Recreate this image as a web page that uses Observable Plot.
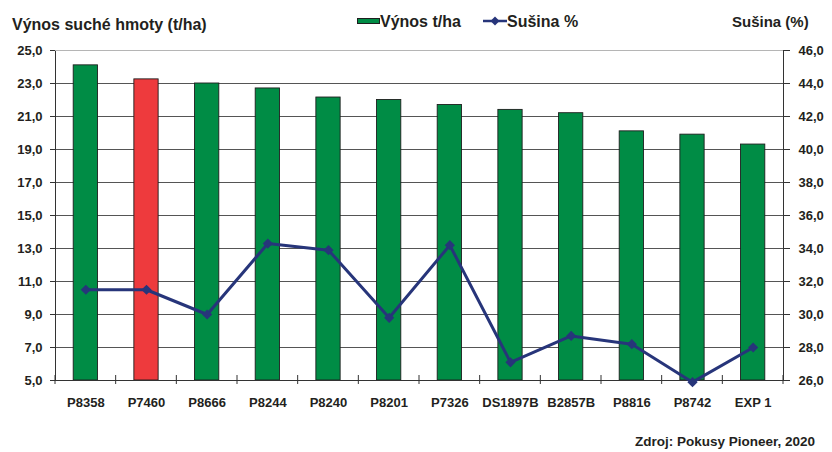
<!DOCTYPE html>
<html>
<head>
<meta charset="utf-8">
<script src="https://cdn.jsdelivr.net/npm/d3@7"></script>
<script src="https://cdn.jsdelivr.net/npm/@observablehq/plot@0.6"></script>
<style>
  body { margin: 0; background: #fff; }
  #wrap { position: relative; width: 832px; height: 452px; overflow: hidden;
          font-family: "Liberation Sans", Arial, sans-serif; font-weight: bold; color: #231f20; }
  .t { position: absolute; white-space: nowrap; line-height: normal; }
  #chart { position: absolute; left: 0; top: 0; }
</style>
</head>
<body>
<div id="wrap">
  <div id="chart"></div>
  <div class="t" style="left:12px;top:15.5px;font-size:16px">Výnos suché hmoty (t/ha)</div>
  <div class="t" style="left:357px;top:17.5px;width:23px;height:6px;box-sizing:border-box;background:#008c45;border:1px solid #1e1e1e"></div>
  <div class="t" style="left:380px;top:13.2px;font-size:16px">Výnos t/ha</div>
  <svg class="t" style="left:482px;top:14px" width="26" height="14">
    <line x1="1" x2="25" y1="7" y2="7" stroke="#27357a" stroke-width="2.5"></line>
    <path d="M13,2.5L17.5,7L13,11.5L8.5,7Z" fill="#27357a"></path>
  </svg>
  <div class="t" style="left:507px;top:13.2px;font-size:16px">Sušina %</div>
  <div class="t" style="left:732px;top:13.1px;font-size:15px">Sušina (%)</div>
  <div class="t" style="right:17px;top:433.5px;font-size:13.5px">Zdroj: Pokusy Pioneer, 2020</div>
</div>
<script>
// ---- data ----
const categories = ["P8358", "P7460", "P8666", "P8244", "P8240", "P8201", "P7326", "DS1897B", "B2857B", "P8816", "P8742", "EXP 1"];
const vynos = [24.1, 23.25, 23.0, 22.7, 22.15, 22.0, 21.7, 21.4, 21.2, 20.1, 19.9, 19.3];
const susina = [31.5, 31.5, 30.0, 34.3, 33.9, 29.8, 34.2, 27.1, 28.7, 28.2, 25.9, 28.0];
const leftTicks = [5, 7, 9, 11, 13, 15, 17, 19, 21, 23, 25];
const rightTicks = [26, 28, 30, 32, 34, 36, 38, 40, 42, 44, 46];
const highlighted = "P7460";

// ---- layout / style ----
const W = 832, H = 452;
const mL = 55, mR = 49, mT = 50, mB = 72;
const GREEN = "#008c45", RED = "#ee3a3d", NAVY = "#27357a", INK = "#231f20";
const offset = leftTicks[0] - rightTicks[0]; // right-axis value -> left-axis value
const fmt = d => d.toFixed(1).replace(".", ",");

const data = categories.map((c, i) => ({ c, v: vynos[i], s: susina[i] + offset }));

const chart = Plot.plot({
  width: W, height: H,
  marginLeft: mL, marginRight: mR, marginTop: mT, marginBottom: mB,
  style: { fontFamily: "'Liberation Sans', Arial, sans-serif", fontWeight: "bold", color: INK, background: "transparent", overflow: "visible" },
  x: { type: "band", domain: categories, paddingInner: 0.6, paddingOuter: 0.3, round: false, label: null },
  y: { domain: [leftTicks[0], leftTicks[leftTicks.length - 1]], label: null },
  marks: [
    Plot.ruleY(leftTicks.slice(1, -1), { stroke: "#555", strokeWidth: 1 }),
    Plot.barY(data, { x: "c", y1: leftTicks[0], y2: "v", fill: d => d.c === highlighted ? RED : GREEN, stroke: "#1e1e1e", strokeWidth: 0.9 }),
    Plot.frame({ stroke: "#333", strokeWidth: 1 }),
    Plot.ruleY([leftTicks[leftTicks.length - 1]], { stroke: "#b5b5b5", strokeWidth: 1 }),
    Plot.line(data, { x: "c", y: "s", stroke: NAVY, strokeWidth: 3, strokeLinejoin: "round" }),
    Plot.dot(data, { x: "c", y: "s", symbol: "diamond2", r: 4.6, fill: NAVY, stroke: "none" }),
    Plot.axisY({ anchor: "left", ticks: leftTicks, tickSize: 5, tickPadding: 8, tickFormat: fmt, fontSize: 13, stroke: "#333" }),
    Plot.axisY({ anchor: "right", ticks: leftTicks, tickSize: 6, tickPadding: 9, tickFormat: d => fmt(d - offset), fontSize: 13, stroke: "#333" }),
    Plot.axisX({ anchor: "bottom", tickSize: 0, tickPadding: 17, fontSize: 13, fontWeight: "bold" })
  ]
});

document.getElementById("chart").appendChild(chart);

// boundary ticks on the category axis, derived from the band scale
const xs = chart.scale("x"), ys = chart.scale("y");
const n = categories.length;
const step = xs.step ?? (xs.range[1] - xs.range[0]) / (n - xs.paddingInner + 2 * xs.paddingOuter);
const bw = xs.bandwidth ?? step * (1 - xs.paddingInner);
const c0 = xs.apply(categories[0]) + bw / 2;
const y0 = ys.apply(leftTicks[0]);
const g = d3.select(chart).append("g").attr("stroke", "#333").attr("stroke-width", 1);
for (let i = 0; i <= n; i++) {
  const x = c0 - step / 2 + i * step;
  g.append("line").attr("x1", x).attr("x2", x).attr("y1", y0 - 5).attr("y2", y0 + 4);
}
</script>
</body>
</html>
